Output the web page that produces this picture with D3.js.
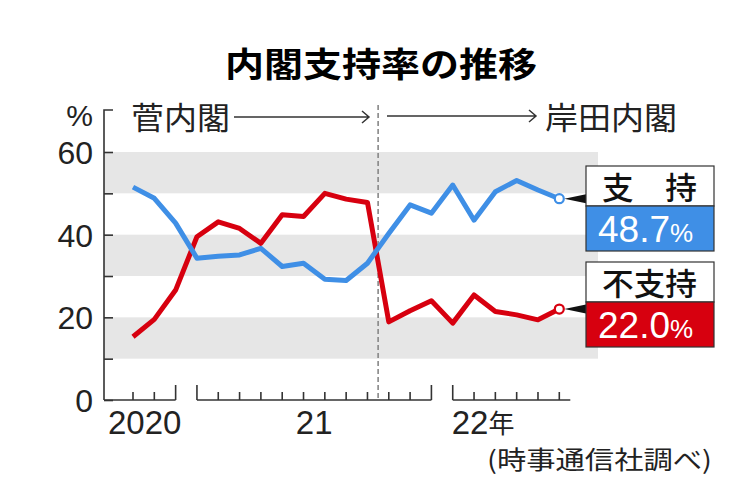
<!DOCTYPE html>
<html>
<head>
<meta charset="utf-8">
<script src="https://cdn.jsdelivr.net/npm/d3@7"></script>
<style>
  body { margin: 0; background: #fff; }
  svg { display: block; }
  .num { font-family: "Liberation Sans", Arial, sans-serif; }
  .jp { font-family: "Noto Sans CJK JP", sans-serif; }
</style>
</head>
<body>
<div id="chart"></div>
<script>
const MONTHS = ["2020-10","2020-11","2020-12",
  "2021-01","2021-02","2021-03","2021-04","2021-05","2021-06","2021-07","2021-08","2021-09","2021-10","2021-11","2021-12",
  "2022-01","2022-02","2022-03","2022-04","2022-05","2022-06"]
const SUPPORT    = [51.5,48.8,42.8,34.3,34.8,35.1,36.7,32.3,33.1,29.2,28.9,33.1,40.3,47.2,45.2,52.0,43.5,50.4,53.1,50.8,48.7]
const DISAPPROVE = [15.3,19.5,26.6,39.5,43.1,41.5,37.9,44.8,44.4,50.0,48.6,47.8,18.9,21.6,24.0,18.6,25.4,21.4,20.6,19.4,22.0]
const Y_TICKS = [0,10,20,30,40,50,60]
const Y_LABELS = [0,20,40,60]
const BANDS = [[10,20],[30,40],[50,60]]
const YEAR_LABELS = ["2020","21","22年"]
const CABINETS = ["菅内閣","岸田内閣"]
const CHANGE_AT = "2021-10"   // 岸田内閣 発足

const BLUE = "#3f8fe6", RED = "#d7000f"

function draw() {
    let W = 743, H = 487;
    let svg = d3.select("#chart").append("svg").attr("width", W).attr("height", H);

    let y = d3.scaleLinear().domain([0, 60]).range([400, 152]);
    let x = d3.scalePoint().domain(MONTHS).range([133, 559.3]);
    let axisX = 104, plotRight = 598;

    // title
    svg.append("text").attr("class", "jp")
        .attr("x", 381).attr("y", 77).attr("text-anchor", "middle")
        .attr("font-size", 34).attr("font-weight", 700)
        .attr("textLength", 312).attr("lengthAdjust", "spacingAndGlyphs")
        .text("内閣支持率の推移");

    // grey bands
    svg.selectAll("rect.band").data(BANDS).enter().append("rect")
        .attr("class", "band")
        .attr("x", axisX).attr("width", plotRight - axisX)
        .attr("y", d => y(d[1])).attr("height", d => y(d[0]) - y(d[1]))
        .attr("fill", "#e6e6e6");

    // y axis
    let ya = svg.append("g").attr("transform", "translate(" + axisX + ",0)")
        .call(d3.axisRight(y).tickValues(Y_TICKS).tickSize(9).tickFormat("").tickSizeOuter(0));
    ya.select(".domain").remove();
    ya.selectAll("line").attr("stroke", "#333").attr("stroke-width", 1.6);
    svg.append("path").attr("d", "M" + (axisX + 9) + ",110H" + axisX + "V400")
        .attr("fill", "none").attr("stroke", "#333").attr("stroke-width", 1.6);

    let yl = svg.append("g").attr("transform", "translate(" + axisX + ",0)")
        .call(d3.axisLeft(y).tickValues(Y_LABELS).tickSize(0).tickPadding(11));
    yl.select(".domain").remove();
    yl.selectAll("text").attr("class", "num").attr("font-size", 32)
        .attr("fill", "#222").attr("dy", "0.36em");

    svg.append("text").attr("class", "num").attr("x", 93).attr("y", 126)
        .attr("text-anchor", "end").attr("font-size", 30).attr("fill", "#222").text("%");

    // x axis: one bracket per year
    let years = d3.groups(MONTHS, m => m.slice(0, 4));
    let xa = svg.append("g").attr("stroke", "#333").attr("stroke-width", 1.6).attr("fill", "none");
    years.forEach(([yr, ms], i) => {
        let x0 = i === 0 ? axisX : x(ms[0]);
        let x1 = i === years.length - 1 ? x(ms[ms.length - 1]) + 11 : x(ms[ms.length - 1]);
        xa.append("path").attr("d", "M" + x0 + ",400H" + x1);
        ms.forEach(m => {
            let mm = m.slice(5);
            let tall = mm === "01" || mm === "12";
            xa.append("path").attr("d", "M" + x(m) + ",400V" + (tall ? 385 : 392));
        });
        let lx, anchor;
        if (i === 0) { lx = axisX + 4; anchor = "start"; }
        else if (i === years.length - 1) { lx = x(ms[0]) - 1; anchor = "start"; }
        else { lx = (x(ms[0]) + x(ms[ms.length - 1])) / 2; anchor = "middle"; }
        let t = svg.append("text").attr("class", "num").attr("x", lx).attr("y", 434)
            .attr("text-anchor", anchor).attr("font-size", 33).attr("fill", "#222");
        let lab = YEAR_LABELS[i];
        if (lab.endsWith("年")) {
            t.text(lab.slice(0, -1));
            t.append("tspan").attr("class", "jp").attr("font-size", 26).attr("dy", -1).text("年");
        } else t.text(lab);
    });

    svg.append("text").attr("class", "jp").attr("x", 487).attr("y", 469)
        .attr("font-size", 25).attr("fill", "#222")
        .attr("textLength", 225).attr("lengthAdjust", "spacingAndGlyphs")
        .text("(時事通信社調べ)");

    // cabinet change
    let xc = (x(CHANGE_AT) + x(MONTHS[MONTHS.indexOf(CHANGE_AT) - 1])) / 2;
    svg.append("line").attr("x1", xc).attr("x2", xc).attr("y1", 105).attr("y2", 400)
        .attr("stroke", "#888").attr("stroke-width", 1.6).attr("stroke-dasharray", "5,3");

    svg.append("text").attr("class", "jp").attr("x", 131).attr("y", 129)
        .attr("font-size", 31).attr("fill", "#222")
        .attr("textLength", 99).attr("lengthAdjust", "spacingAndGlyphs").text(CABINETS[0]);
    svg.append("text").attr("class", "jp").attr("x", 545).attr("y", 129)
        .attr("font-size", 31).attr("fill", "#222")
        .attr("textLength", 132).attr("lengthAdjust", "spacingAndGlyphs").text(CABINETS[1]);

    function arrow(xa0, xa1, ay) {
        svg.append("path").attr("d", "M" + xa0 + "," + ay + "H" + xa1 + "M" + (xa1 - 7) + "," + (ay - 6) + "L" + xa1 + "," + ay + "L" + (xa1 - 7) + "," + (ay + 6))
            .attr("fill", "none").attr("stroke", "#333").attr("stroke-width", 1.5);
    }
    arrow(234, 369, 117);
    arrow(387, 536, 116);

    // lines
    let line = d3.line().x((d, i) => x(MONTHS[i])).y(d => y(d));
    [[DISAPPROVE, RED], [SUPPORT, BLUE]].forEach(([vals, c]) => {
        svg.append("path").datum(vals).attr("d", line)
            .attr("fill", "none").attr("stroke", c).attr("stroke-width", 5)
            .attr("stroke-linejoin", "round");
    });

    // end markers + callout boxes
    let last = MONTHS[MONTHS.length - 1];
    let boxes = [
        {vals: SUPPORT, c: BLUE, label: "支　持", top: 166},
        {vals: DISAPPROVE, c: RED, label: "不支持", top: 262}
    ];
    boxes.forEach(b => {
        let v = b.vals[b.vals.length - 1];
        let cx = x(last), cy = y(v);
        let bx = 586, bw = 128;
        svg.append("path")
            .attr("d", "M" + (cx + 5) + "," + cy + "L" + bx + "," + (cy - 4.5) + "L" + bx + "," + (cy + 4.5) + "Z")
            .attr("fill", "#111");
        svg.append("circle").attr("cx", cx).attr("cy", cy).attr("r", 4.5)
            .attr("fill", "#fff").attr("stroke", b.c).attr("stroke-width", 2.2);
        svg.append("rect").attr("x", bx).attr("y", b.top).attr("width", bw).attr("height", 40)
            .attr("fill", "#fff").attr("stroke", "#333").attr("stroke-width", 1.2);
        svg.append("rect").attr("x", bx).attr("y", b.top + 40).attr("width", bw).attr("height", 45)
            .attr("fill", b.c).attr("stroke", "#333").attr("stroke-width", 1.2);
        svg.append("text").attr("class", "jp").attr("x", bx + bw / 2 - 0.5).attr("y", b.top + 33)
            .attr("text-anchor", "middle").attr("font-size", 31).attr("font-weight", 500).attr("fill", "#111")
            .attr("textLength", 95).attr("lengthAdjust", "spacingAndGlyphs")
            .text(b.label);
        let t = svg.append("text").attr("class", "num").attr("x", bx + 12).attr("y", b.top + 76)
            .attr("font-size", 37).attr("fill", "#fff").text(v.toFixed(1));
        t.append("tspan").attr("font-size", 26).text("%");
    });
}

window.onload = draw;
</script>
</body>
</html>
